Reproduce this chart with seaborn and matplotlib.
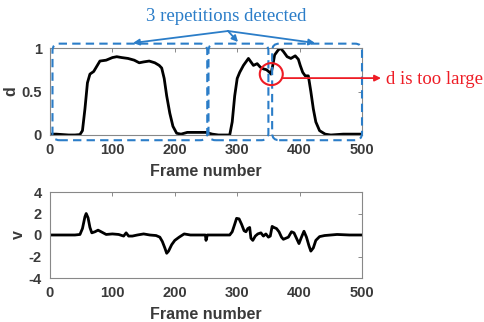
import numpy as np
import pandas as pd
import seaborn as sns
import matplotlib.pyplot as plt
from matplotlib.patches import FancyBboxPatch, Ellipse

# d curve (normalised distance)
d_frames = [0, 10, 20, 30, 40, 48, 52, 56, 60, 64, 70, 80, 90, 100, 107, 115,
            125, 135, 143, 150, 159, 168, 175, 179, 183, 187, 192, 197, 203, 210,
            220, 230, 240, 250, 255, 260, 270, 280, 288, 292, 296, 300, 304, 310,
            318, 322, 326, 332, 337, 342, 347, 352, 354, 357, 360, 365, 369, 374,
            380, 386, 393, 398, 401, 405, 409, 414, 418, 422, 426, 432, 441, 450,
            470, 500]
d_values = [0.01, 0.01, 0.005, 0.0, 0.0, 0.005, 0.05, 0.3, 0.6, 0.7, 0.73, 0.85,
            0.86, 0.89, 0.9, 0.89, 0.88, 0.86, 0.83, 0.84, 0.85, 0.83, 0.8, 0.77,
            0.65, 0.45, 0.25, 0.1, 0.02, 0.01, 0.03, 0.03, 0.03, 0.03, 0.02, 0.01,
            0.0, 0.0, 0.0, 0.15, 0.45, 0.65, 0.72, 0.8, 0.88, 0.84, 0.8, 0.82,
            0.78, 0.76, 0.75, 0.72, 0.7, 0.8, 0.92, 0.97, 1.0, 0.96, 0.9, 0.88,
            0.91, 0.87, 0.8, 0.72, 0.68, 0.68, 0.5, 0.3, 0.15, 0.05, 0.01, 0.0,
            0.01, 0.01]

# v curve (velocity)
v_frames = [0, 20, 40, 48, 52, 56, 58, 61, 64, 67, 72, 77, 82, 90, 100, 110, 118,
            122, 126, 132, 140, 150, 160, 170, 176, 180, 184, 187, 190, 195, 200,
            207, 215, 225, 240, 249, 250, 251, 252, 260, 280, 288, 292, 296, 299,
            303, 307, 311, 314, 317, 320, 322, 325, 329, 333, 338, 342, 346, 350,
            353, 356, 359, 363, 367, 371, 374, 378, 382, 387, 391, 395, 399, 403,
            407, 411, 415, 418, 422, 426, 432, 440, 460, 480, 500]
v_values = [0, 0, 0, 0.05, 0.6, 1.7, 2.0, 1.6, 0.7, 0.2, 0.3, 0.45, 0.3, 0.05,
            0.1, 0.05, -0.1, 0.2, -0.1, -0.1, 0.0, 0.1, 0.0, -0.05, -0.2, -0.6,
            -1.2, -1.7, -1.5, -0.9, -0.5, -0.2, 0.1, 0.0, 0.0, 0.0, -0.5, -0.3,
            0.0, 0.0, 0.0, 0.0, 0.3, 1.0, 1.55, 1.5, 1.0, 0.4, 0.3, 0.6, 0.7, -0.3,
            -0.5, -0.1, 0.1, 0.2, -0.1, 0.1, -0.2, -0.1, 0.8, 0.7, 0.6, 0.3, -0.2,
            -0.4, -0.3, -0.2, 0.3, 0.2, -0.3, -0.8, -0.2, 0.35, -0.2, -1.0, -1.5,
            -1.2, -0.5, -0.15, -0.05, 0.05, 0.0, 0.0]

# detected repetitions (frame ranges) and the joint where d is too large
repetitions = [(4, 252), (254, 350), (356, 500)]
problem_frame, problem_d = 353, 0.70

xticks = [0, 100, 200, 300, 400, 500]
d_ticks = [0, 0.5, 1]
v_ticks = [-4, -2, 0, 2, 4]

BLUE = '#2b7dc8'
RED = '#ee1c25'
GREY = '#3a3a3a'

sns.set_style('white')
plt.rcParams['font.family'] = ['Liberation Sans', 'DejaVu Sans']

fig = plt.figure(figsize=(4.84, 3.22), dpi=100)
ax_d = fig.add_axes([50 / 484, 1 - 135 / 322, 312 / 484, 87 / 322])
ax_v = fig.add_axes([50 / 484, 1 - 278 / 322, 312 / 484, 86 / 322])

df_d = pd.DataFrame({'frame': d_frames, 'd': d_values})
df_v = pd.DataFrame({'frame': v_frames, 'v': v_values})
sns.lineplot(data=df_d, x='frame', y='d', ax=ax_d, color='black', lw=2)
sns.lineplot(data=df_v, x='frame', y='v', ax=ax_v, color='black', lw=2)

for ax, yt, ylim, lab in [(ax_d, d_ticks, (0, 1), 'd'), (ax_v, v_ticks, (-4, 4), 'v')]:
    ax.set_xlim(0, 500)
    ax.set_ylim(*ylim)
    ax.set_xticks(xticks)
    ax.set_yticks(yt)
    ax.set_yticklabels([f'{t:g}' for t in yt], fontweight='bold', fontsize=10.5, color=GREY)
    ax.set_xticklabels([str(t) for t in xticks], fontweight='bold', fontsize=10.5, color=GREY)
    ax.set_xlabel('Frame number', fontweight='bold', fontsize=11.5, color=GREY, labelpad=5)
    ax.set_ylabel(lab, fontweight='bold', fontsize=11.5, color=GREY, labelpad=2)
    ax.tick_params(direction='in', length=3, top=True, right=True, width=0.6,
                   color='#777777', pad=6)
    for s in ax.spines.values():
        s.set_color('#888888')
        s.set_linewidth(0.8)

# overlay in pixel coordinates for the annotations
ov = fig.add_axes([0, 0, 1, 1], zorder=5)
ov.set_xlim(0, 484)
ov.set_ylim(0, 322)
ov.axis('off')
ov.patch.set_alpha(0)


def to_px(x, y):
    return ax_d.transData.transform((x, y))


for f0, f1 in repetitions:
    x0, y0 = to_px(f0, -0.06)
    x1, y1 = to_px(f1, 1.05)
    box = FancyBboxPatch((x0, y0), x1 - x0, y1 - y0,
                         boxstyle='round,pad=0,rounding_size=7',
                         fill=False, ec=BLUE, lw=1.5, ls=(0, (4, 2.5)))
    ov.add_patch(box)

ov.text(226, 322 - 16, '3 repetitions detected', color=BLUE, fontsize=13.5,
        family=['Liberation Serif', 'DejaVu Serif'], ha='center', va='center')
start = (228, 322 - 31)
heads = [(133, 322 - 43), (238, 322 - 42), (315, 322 - 43)]
for hx, hy in heads:
    ov.annotate('', xy=(hx, hy), xytext=start,
                arrowprops=dict(arrowstyle='-|>', color=BLUE, lw=1.3,
                                mutation_scale=9, shrinkA=0, shrinkB=0))

cx, cy = to_px(problem_frame, problem_d)
ov.add_patch(Ellipse((cx + 1, cy), 23, 22, fill=False, ec=RED, lw=1.5))
ov.annotate('', xy=(381, cy - 4), xytext=(cx + 12, cy - 4),
            arrowprops=dict(arrowstyle='-|>', color=RED, lw=1.3,
                            mutation_scale=9, shrinkA=0, shrinkB=0))
ov.text(386, cy - 5, 'd is too large', color=RED, fontsize=13.5,
        family=['Liberation Serif', 'DejaVu Serif'], ha='left', va='center')

fig.savefig('out.png', dpi=100)
